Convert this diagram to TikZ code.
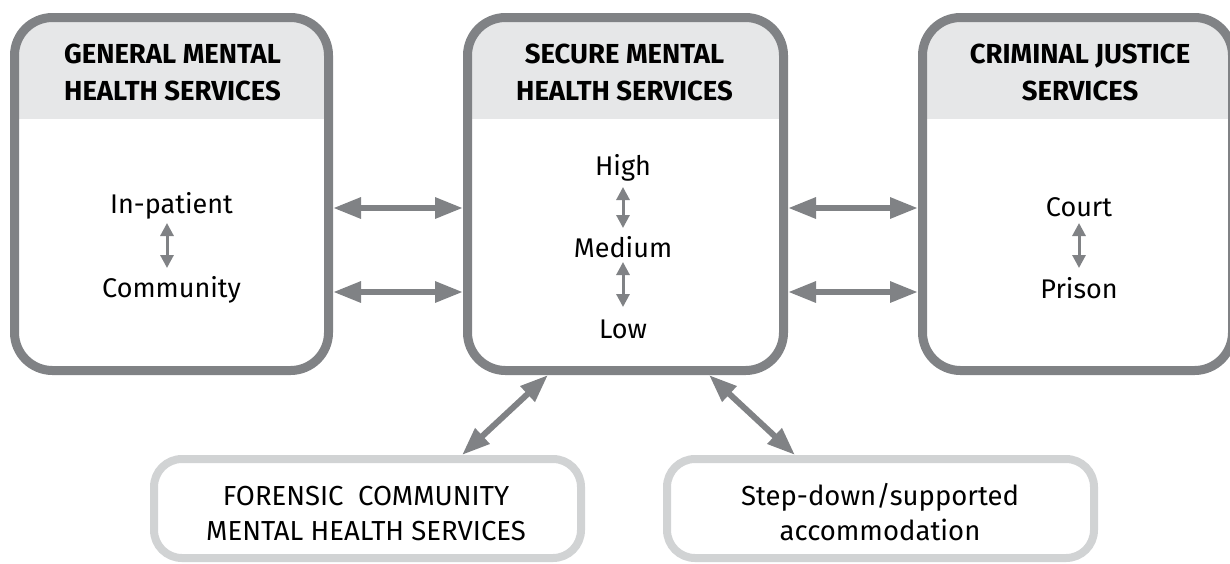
\documentclass[tikz,border=0pt]{standalone}
\usepackage{fontspec}
\setmainfont{Fira Sans}
\usetikzlibrary{arrows.meta}
\definecolor{dg}{RGB}{128,130,133}
\definecolor{hg}{RGB}{230,231,232}
\definecolor{lg}{RGB}{209,211,212}
\tikzset{
  bigbox/.style={draw=dg, line width=9pt, rounded corners=38pt, minimum height=353pt, inner sep=0pt,
    path picture={\fill[hg, sharp corners] ([yshift=20pt]path picture bounding box.north west) rectangle ([yshift=-101.5pt]path picture bounding box.north east);}},
  smallbox/.style={draw=lg, line width=8pt, rounded corners=28pt, minimum width=427pt, minimum height=99pt, inner sep=0pt},
  hdr/.style={font=\bfseries\fontsize{27.5}{30}\selectfont, anchor=base, inner sep=0pt},
  txt/.style={font=\fontsize{27}{30}\selectfont, anchor=base, inner sep=0pt},
  btxt/.style={font=\fontsize{27.5}{30}\selectfont, anchor=base, inner sep=0pt},
  bigarr/.style={draw=dg, line width=6pt, {Triangle[length=28pt,width=20pt]}-{Triangle[length=28pt,width=20pt]}},
  smallarr/.style={draw=dg, line width=3pt, {Triangle[length=13pt,width=13pt]}-{Triangle[length=13pt,width=13pt]}}
}
\begin{document}
\begin{tikzpicture}[x=1pt,y=-1pt]
\useasboundingbox (0,0) rectangle (1230,563);
% main boxes
\node[bigbox, minimum width=314pt] (b1) at (171.5,194) {};
\node[bigbox, minimum width=316pt] (b2) at (625.5,194) {};
\node[bigbox, minimum width=310pt] (b3) at (1077.5,194) {};
% bottom boxes
\node[smallbox] (b4) at (367.5,508.5) {};
\node[smallbox] (b5) at (880.5,508.5) {};
% headers
\node[hdr] (h1a) at (172.5,63) {GENERAL MENTAL};
\node[hdr] (h1b) at (172.5,100) {HEALTH SERVICES};
\node[hdr] (h2a) at (624.5,63) {SECURE MENTAL};
\node[hdr] (h2b) at (624.5,100) {HEALTH SERVICES};
\node[hdr] (h3a) at (1080,63) {CRIMINAL JUSTICE};
\node[hdr] (h3b) at (1080,100) {SERVICES};
% inner texts
\node[txt] (ip) at (171.5,213) {In-patient};
\node[txt] (com) at (171.5,297) {Community};
\node[txt] (hi) at (623,175) {High};
\node[txt] (me) at (623,257) {Medium};
\node[txt] (lo) at (623,338) {Low};
\node[txt] (co) at (1079,216) {Court};
\node[txt] (pr) at (1079,298) {Prison};
% bottom texts
\node[btxt] (f1) at (366,505) {FORENSIC\ \ COMMUNITY};
\node[btxt] (f2) at (366,540) {MENTAL HEALTH SERVICES};
\node[btxt] (s1) at (880,505) {Step-down/supported};
\node[btxt] (s2) at (880,540) {accommodation};
% small arrows
\coordinate (cx) at (167,0);
\draw[smallarr] ([yshift=-10pt]ip.base -| cx) -- ([yshift=29pt]com.base -| cx);
\draw[smallarr] ([yshift=-12pt]hi.base) -- ([yshift=29pt]me.base);
\draw[smallarr] ([yshift=-5pt]me.base) -- ([yshift=31pt]lo.base);
\draw[smallarr] ([yshift=-7pt]co.base) -- ([yshift=30pt]pr.base);
% horizontal arrows
\coordinate (r1) at (0,208);
\coordinate (r2) at (0,292);
\draw[bigarr] (b1.east |- r1) -- (b2.west |- r1);
\draw[bigarr] (b1.east |- r2) -- (b2.west |- r2);
\draw[bigarr] (b2.east |- r1) -- (b3.west |- r1);
\draw[bigarr] (b2.east |- r2) -- (b3.west |- r2);
% diagonal arrows
\draw[bigarr] ([xshift=-77.5pt]b2.south) -- ([xshift=94.5pt]b4.north);
\draw[bigarr] ([xshift=83.5pt]b2.south) -- ([xshift=-85.5pt]b5.north);
\end{tikzpicture}
\end{document}
